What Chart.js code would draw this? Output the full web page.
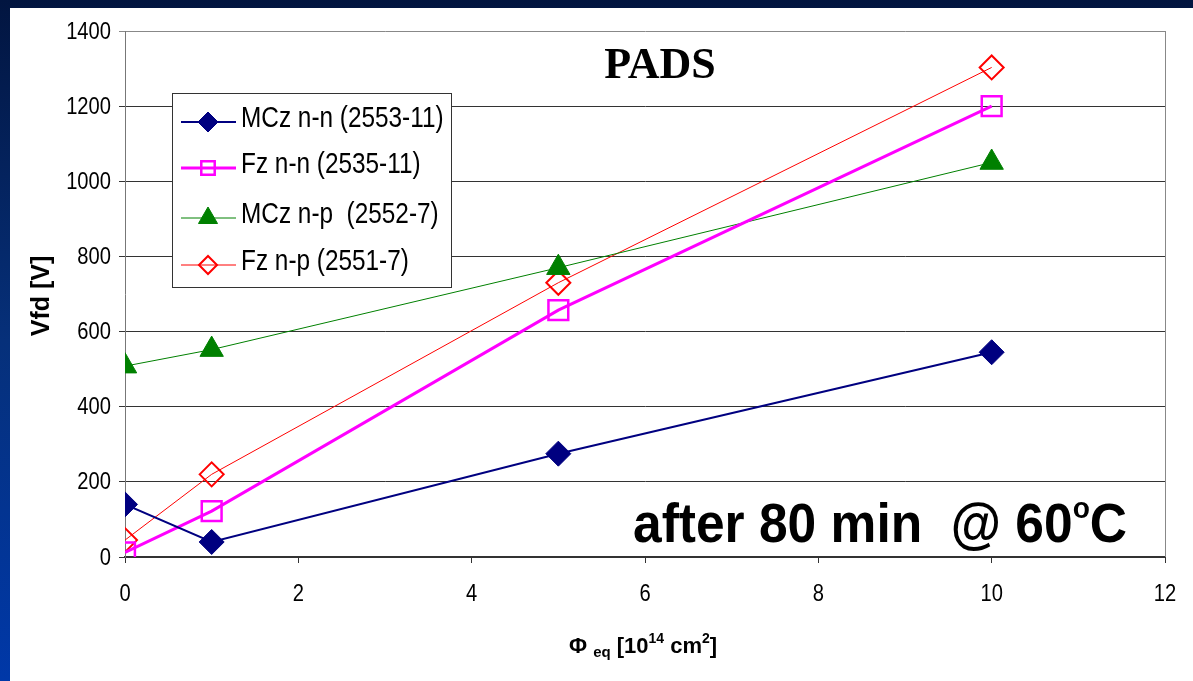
<!DOCTYPE html>
<html>
<head>
<meta charset="utf-8">
<script src="https://cdn.jsdelivr.net/npm/chart.js@4"></script>
<style>
  html, body { margin: 0; padding: 0; }
  body {
    width: 1193px; height: 681px; overflow: hidden;
    background: linear-gradient(180deg, #021540 0%, #06307a 50%, #0038a8 100%);
    position: relative;
  }
  #wrap {
    position: absolute; left: 10px; top: 8px; width: 1183px; height: 673px;
    background: #fff;
  }
</style>
</head>
<body>
<div id="wrap"><canvas id="chart" width="1183" height="673"></canvas></div>
<script>
// Fluence values (10^14 cm^-2)
const fluence = [0, 1, 5, 10];

// Full depletion voltages [V]
const mczNN = [140, 40, 275, 545];
const fzNN = [12, 122, 657, 1200];
const mczNP = [508, 552, 770, 1050];
const fzNP = [45, 220, 730, 1303];

const seriesNames = [
  "MCz n-n (2553-11)",
  "Fz n-n (2535-11)",
  "MCz n-p  (2552-7)",
  "Fz n-p (2551-7)"
];

const yTicks = [0, 200, 400, 600, 800, 1000, 1200, 1400];
const xTicks = [0, 2, 4, 6, 8, 10, 12];

function toPoints(values) {
  return fluence.map((x, i) => ({ x: x, y: values[i] }));
}

const FONT = "'Liberation Sans', Arial, sans-serif";

// text squeezed horizontally, like the original slide
function narrowText(ctx, txt, x, y, sx, align) {
  ctx.save();
  ctx.translate(x, y);
  ctx.scale(sx, 1);
  ctx.textAlign = align || "left";
  ctx.fillText(txt, 0, 0);
  ctx.restore();
}

// Draws tick labels, legend box, titles and frame by hand
const decorations = {
  id: "decorations",
  afterDatasetsDraw(chart) {
    const ctx = chart.ctx;
    const area = chart.chartArea;
    const xs = chart.scales.x;
    const ys = chart.scales.y;
    ctx.save();

    // right border of the plot
    ctx.strokeStyle = "#888";
    ctx.lineWidth = 1;
    ctx.beginPath();
    ctx.moveTo(area.right + 0.5, area.top);
    ctx.lineTo(area.right + 0.5, area.bottom);
    ctx.stroke();

    // tick labels
    ctx.fillStyle = "#000";
    ctx.font = "24px " + FONT;
    ctx.textBaseline = "middle";
    yTicks.forEach(v => {
      narrowText(ctx, String(v), 101, ys.getPixelForValue(v) + 1, 0.84, "right");
    });
    xTicks.forEach(v => {
      narrowText(ctx, String(v), xs.getPixelForValue(v), 586, 0.84, "center");
    });

    // PADS label
    ctx.textBaseline = "alphabetic";
    ctx.font = "bold 44px 'Liberation Serif', 'Times New Roman', serif";
    ctx.textAlign = "center";
    ctx.fillText("PADS", 650, 70);

    // after 80 min @ 60oC
    ctx.font = "bold 55px " + FONT;
    ctx.textAlign = "left";
    const main = "after 80 min  @ 60";
    const mainW = ctx.measureText(main).width;
    ctx.font = "bold 30px " + FONT;
    const supW = ctx.measureText("o").width;
    ctx.font = "bold 55px " + FONT;
    const cW = ctx.measureText("C").width;
    const sx = 494 / (mainW + supW + cW);
    ctx.save();
    ctx.translate(623, 534);
    ctx.scale(sx, 1);
    ctx.fillText(main, 0, 0);
    ctx.font = "bold 30px " + FONT;
    ctx.fillText("o", mainW, -24);
    ctx.font = "bold 55px " + FONT;
    ctx.fillText("C", mainW + supW, 0);
    ctx.restore();

    // y axis title
    ctx.save();
    ctx.translate(32, 288);
    ctx.rotate(-Math.PI / 2);
    ctx.font = "bold 25px " + FONT;
    ctx.textAlign = "center";
    ctx.textBaseline = "middle";
    ctx.fillText("Vfd [V]", 0, 0);
    ctx.restore();

    // x axis title: Phi_eq [10^14 cm^2]
    let x = 559;
    const yb = 645;
    const part = (txt, size, dy) => {
      ctx.font = "bold " + size + "px " + FONT;
      ctx.fillText(txt, x, yb + dy);
      x += ctx.measureText(txt).width;
    };
    ctx.textAlign = "left";
    part("\u03A6 ", 22, 0);
    part("eq", 15, 4);
    part(" [10", 22, 0);
    part("14", 14, -10);
    part(" cm", 22, 0);
    part("2", 14, -10);
    part("]", 22, 0);

    // legend
    const lx = 162, ly = 85, lw = 279, lh = 194;
    ctx.fillStyle = "#fff";
    ctx.fillRect(lx, ly, lw, lh);
    ctx.strokeStyle = "#333";
    ctx.lineWidth = 1;
    ctx.strokeRect(lx + 0.5, ly + 0.5, lw, lh);
    const rowY = [114, 160, 210, 257];
    chart.data.datasets.forEach((ds, i) => {
      const yy = rowY[i];
      ctx.strokeStyle = ds.borderColor;
      ctx.lineWidth = ds.borderWidth;
      ctx.beginPath();
      ctx.moveTo(171, yy);
      ctx.lineTo(226, yy);
      ctx.stroke();
      ctx.fillStyle = ds.pointBackgroundColor;
      ctx.strokeStyle = ds.pointBorderColor;
      ctx.lineWidth = ds.pointBorderWidth;
      Chart.helpers.drawPoint(ctx, {
        pointStyle: ds.pointStyle,
        radius: ds.legendRadius,
        rotation: 0,
        borderWidth: ds.pointBorderWidth
      }, 198, yy);
      ctx.fillStyle = "#000";
      ctx.font = "29px " + FONT;
      ctx.textBaseline = "middle";
      narrowText(ctx, seriesNames[i], 231, yy - 3, 0.84, "left");
    });

    ctx.restore();
  }
};

const ctx = document.getElementById("chart").getContext("2d");
new Chart(ctx, {
  type: "scatter",
  data: {
    datasets: [
      {
        label: seriesNames[0],
        data: toPoints(mczNN),
        showLine: true,
        borderColor: "#000080",
        borderWidth: 2,
        pointStyle: "rectRot",
        pointRadius: 12.5,
        legendRadius: 10,
        pointBackgroundColor: "#000080",
        pointBorderColor: "#000080",
        pointBorderWidth: 1
      },
      {
        label: seriesNames[1],
        data: toPoints(fzNN),
        showLine: true,
        borderColor: "#ff00ff",
        borderWidth: 3,
        pointStyle: "rect",
        pointRadius: 14,
        legendRadius: 9.5,
        pointBackgroundColor: "rgba(0,0,0,0)",
        pointBorderColor: "#ff00ff",
        pointBorderWidth: 2.5
      },
      {
        label: seriesNames[2],
        data: toPoints(mczNP),
        showLine: true,
        borderColor: "#008000",
        borderWidth: 1,
        pointStyle: "triangle",
        pointRadius: 13.5,
        legendRadius: 11,
        pointBackgroundColor: "#008000",
        pointBorderColor: "#008000",
        pointBorderWidth: 1
      },
      {
        label: seriesNames[3],
        data: toPoints(fzNP),
        showLine: true,
        borderColor: "#ff0000",
        borderWidth: 1,
        pointStyle: "rectRot",
        pointRadius: 12,
        legendRadius: 9,
        pointBackgroundColor: "rgba(0,0,0,0)",
        pointBorderColor: "#ff0000",
        pointBorderWidth: 2
      }
    ]
  },
  options: {
    responsive: false,
    animation: false,
    layout: { padding: { left: 0, top: 23, right: 28, bottom: 0 } },
    plugins: {
      legend: { display: false },
      tooltip: { enabled: false }
    },
    scales: {
      x: {
        type: "linear",
        min: 0,
        max: 12,
        afterBuildTicks(scale) {
          scale.ticks = xTicks.map(v => ({ value: v }));
        },
        afterFit(scale) { scale.height = 124; },
        grid: {
          drawOnChartArea: false,
          drawTicks: true,
          tickLength: 6,
          color: "#333"
        },
        border: { color: "#333", width: 2 },
        ticks: { color: "rgba(0,0,0,0)" }
      },
      y: {
        type: "linear",
        min: 0,
        max: 1400,
        afterBuildTicks(scale) {
          scale.ticks = yTicks.map(v => ({ value: v }));
        },
        afterFit(scale) { scale.width = 115; },
        grid: {
          color: ctx => (ctx.tick && ctx.tick.value === 1400 ? "#888" : "#333"),
          lineWidth: 1,
          tickLength: 6,
          drawTicks: true
        },
        border: { color: "#777", width: 1 },
        ticks: { color: "rgba(0,0,0,0)" }
      }
    }
  },
  plugins: [decorations]
});
</script>
</body>
</html>
